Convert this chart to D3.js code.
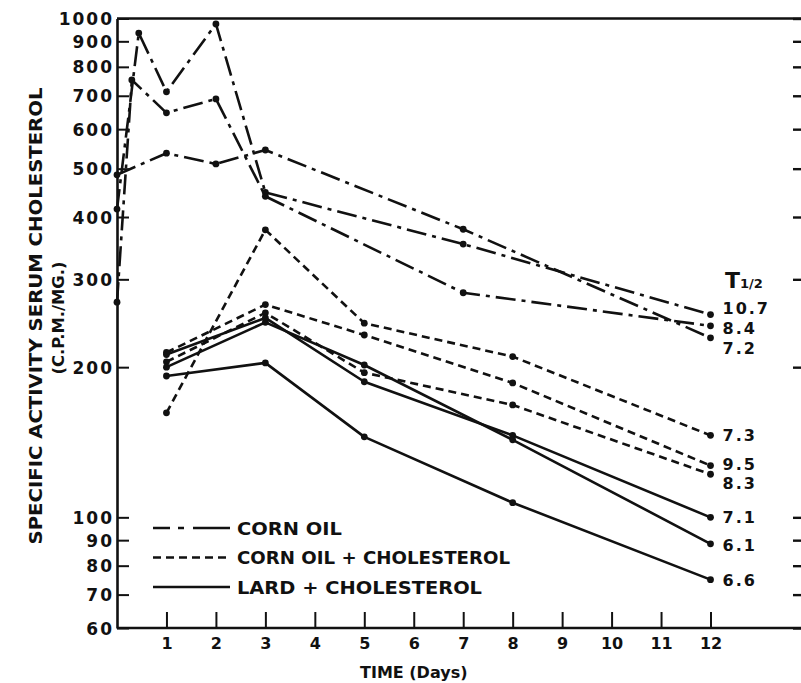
<!DOCTYPE html>
<html>
<head>
<meta charset="utf-8">
<script src="https://cdn.jsdelivr.net/npm/d3@7"></script>
<style>
body { margin: 0; background: #fff; }
text { font-family: "DejaVu Sans", sans-serif; font-weight: bold; fill: #111; }
.axis path, .axis line, .frame { stroke: #111; }
</style>
</head>
<body>
<script>
var width = 801,
    height = 683;

// [day, specific activity c.p.m./mg]
// corn oil (dash-dot)
var cornOil1 = [[0, 415], [0.44, 935], [1, 713], [2, 975], [3, 448], [7, 353], [12, 255]];
var cornOil2 = [[0, 270], [0.3, 753], [1, 647], [2, 690], [3, 440], [7, 282], [12, 242]];
var cornOil3 = [[0, 486], [1, 537], [2, 511], [3, 545], [7, 378], [12, 229]];
// corn oil + cholesterol (dashed)
var cornChol1 = [[1, 162], [3, 377], [5, 245], [8, 210], [12, 146]];
var cornChol2 = [[1, 214], [3, 267], [5, 232], [8, 186], [12, 127]];
var cornChol3 = [[1, 205], [3, 257], [5, 195], [8, 168], [12, 122]];
// lard + cholesterol (solid)
var lardChol1 = [[1, 212], [3, 251], [5, 187], [8, 146], [12, 100]];
var lardChol2 = [[1, 200], [3, 246], [5, 202], [8, 143], [12, 88.5]];
var lardChol3 = [[1, 192], [3, 204], [5, 145], [8, 107], [12, 75]];

var halfLives = ['10.7', '8.4', '7.2', '7.3', '9.5', '8.3', '7.1', '6.1', '6.6'];
var diets = ['CORN OIL', 'CORN OIL + CHOLESTEROL', 'LARD + CHOLESTEROL'];
var dayTicks = [1, 2, 3, 4, 5, 6, 7, 8, 9, 10, 11, 12];
var valueTicks = [60, 70, 80, 90, 100, 200, 300, 400, 500, 600, 700, 800, 900, 1000];

var series = [
    {diet: 0, values: cornOil1}, {diet: 0, values: cornOil2}, {diet: 0, values: cornOil3},
    {diet: 1, values: cornChol1}, {diet: 1, values: cornChol2}, {diet: 1, values: cornChol3},
    {diet: 2, values: lardChol1}, {diet: 2, values: lardChol2}, {diet: 2, values: lardChol3}
];
series.forEach(function(s, i) { s.t = halfLives[i]; });

// styling
var dashes = ['20 6 4 6', '8 5', null];
var legendDashes = ['17 8 6 9 40', '8 5', null];
var labelNudge = [-6, 2, 10, 0, -1, 9, 0, 1, 1];

var svg = d3.select('body')
    .append('svg')
    .attr('width', width)
    .attr('height', height);

var x = d3.scaleLinear()
    .domain([0, 12])
    .range([117, 710.5]);

var y = d3.scaleLog()
    .domain([60, 1000])
    .range([628, 18.5]);

// frame: top and bottom run off to the right edge
svg.append('path')
    .attr('class', 'frame')
    .attr('d', 'M' + x(0) + ',' + y(1000) + 'H' + (width + 5) +
               'M' + x(0) + ',' + y(60) + 'H' + (width + 5))
    .attr('fill', 'none')
    .attr('stroke-width', 2.6);

var yAxis = svg.append('g')
    .attr('class', 'axis')
    .attr('transform', 'translate(' + x(0) + ',0)')
    .call(d3.axisLeft(y)
        .tickValues(valueTicks)
        .tickSizeInner(-12)
        .tickSizeOuter(0)
        .tickPadding(3)
        .tickFormat(d3.format('d')));
yAxis.select('.domain').attr('stroke-width', 2.6);
yAxis.selectAll('line').attr('stroke-width', 2);
yAxis.selectAll('text')
    .style('font-size', '17px')
    .style('letter-spacing', '2px')
    .attr('dy', '0.36em');

// tick marks of the right-hand scale (its axis line is cut off)
var rAxis = svg.append('g')
    .attr('class', 'axis')
    .attr('transform', 'translate(' + (width + 2) + ',0)')
    .call(d3.axisLeft(y).tickValues(valueTicks).tickSize(10).tickFormat(''));
rAxis.select('.domain').remove();
rAxis.selectAll('line').attr('stroke-width', 2.4);

var xAxis = svg.append('g')
    .attr('class', 'axis')
    .attr('transform', 'translate(0,' + y(60) + ')')
    .call(d3.axisBottom(x)
        .tickValues(dayTicks)
        .tickSizeInner(-16)
        .tickSizeOuter(0)
        .tickPadding(10));
xAxis.select('.domain').remove();
xAxis.selectAll('line').attr('stroke-width', 2);
xAxis.selectAll('text').style('font-size', '16px');

svg.append('text')
    .attr('x', x(6))
    .attr('y', 678)
    .attr('text-anchor', 'middle')
    .style('font-size', '16px')
    .text('TIME (Days)');

svg.append('text')
    .attr('transform', 'translate(42,316) rotate(-90)')
    .attr('text-anchor', 'middle')
    .attr('textLength', 457)
    .attr('lengthAdjust', 'spacingAndGlyphs')
    .style('font-size', '18px')
    .text('SPECIFIC ACTIVITY SERUM CHOLESTEROL');

svg.append('text')
    .attr('transform', 'translate(64,318) rotate(-90)')
    .attr('text-anchor', 'middle')
    .attr('textLength', 113)
    .attr('lengthAdjust', 'spacingAndGlyphs')
    .style('font-size', '16px')
    .text('(C.P.M./MG.)');

var line = d3.line()
    .x(function(d) { return x(d[0]); })
    .y(function(d) { return y(d[1]); });

var lines = svg.append('g')
    .selectAll('g')
    .data(series).enter()
    .append('g');

lines.append('path')
    .attr('d', function(d) { return line(d.values); })
    .attr('fill', 'none')
    .attr('stroke', '#111')
    .attr('stroke-width', 2.6)
    .attr('stroke-linejoin', 'round')
    .attr('stroke-dasharray', function(d) { return dashes[d.diet]; });

lines.selectAll('circle')
    .data(function(d) { return d.values; }).enter()
    .append('circle')
    .attr('cx', function(d) { return x(d[0]); })
    .attr('cy', function(d) { return y(d[1]); })
    .attr('r', 3.4)
    .attr('fill', '#111');

lines.append('text')
    .attr('x', x(12) + 12)
    .attr('y', function(d, i) { return y(d.values[d.values.length - 1][1]) + labelNudge[i]; })
    .attr('dy', '0.36em')
    .style('font-size', '16px')
    .style('letter-spacing', '2px')
    .text(function(d) { return d.t; });

var thalf = svg.append('text')
    .attr('x', 725)
    .attr('y', 288)
    .style('font-size', '22px')
    .text('T');
thalf.append('tspan')
    .style('font-size', '13px')
    .text('1/2');

// legend
var legend = svg.append('g')
    .selectAll('g')
    .data(diets).enter()
    .append('g')
    .attr('transform', function(d, i) { return 'translate(153,' + (528 + i * 29.5) + ')'; });

legend.append('line')
    .attr('x1', 0)
    .attr('x2', 77)
    .attr('stroke', '#111')
    .attr('stroke-width', 2.6)
    .attr('stroke-dasharray', function(d, i) { return legendDashes[i]; });

legend.append('text')
    .attr('x', 84)
    .attr('y', 6.5)
    .attr('textLength', function(d, i) { return [105, 273, 245][i]; })
    .attr('lengthAdjust', 'spacingAndGlyphs')
    .style('font-size', '18px')
    .text(function(d) { return d; });
</script>
</body>
</html>
